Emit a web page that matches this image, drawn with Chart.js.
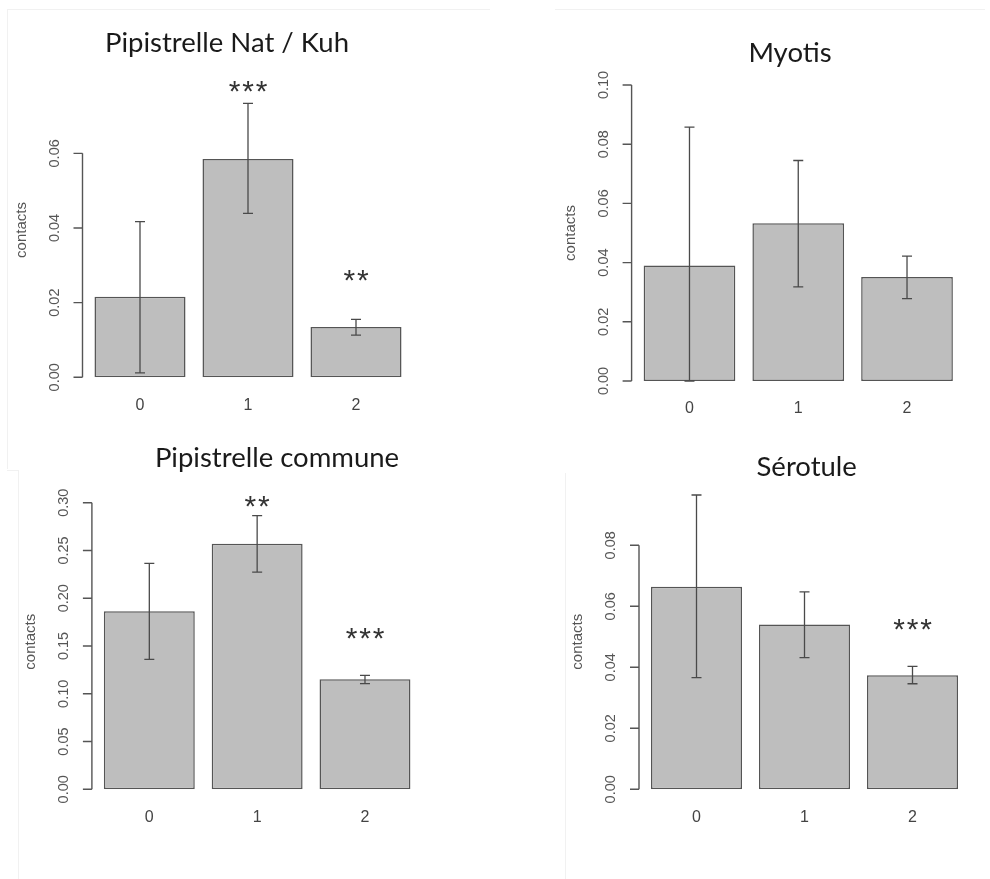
<!DOCTYPE html>
<html>
<head>
<meta charset="utf-8">
<script src="https://cdn.jsdelivr.net/npm/chart.js@4.4.1/dist/chart.umd.min.js"></script>
<style>
  html, body { margin: 0; padding: 0; background: #ffffff; }
  body { width: 990px; height: 879px; position: relative; overflow: hidden; }
  .panel { position: absolute; width: 495px; height: 440px; }
  .faint { position: absolute; background: #f1f1f1; }
</style>
</head>
<body>
<div class="faint" style="left:7px;top:9px;width:483px;height:1px;"></div>
<div class="faint" style="left:7px;top:9px;width:1px;height:460px;"></div>
<div class="faint" style="left:555px;top:9px;width:430px;height:1px;"></div>
<div class="faint" style="left:7px;top:470px;width:11px;height:1px;"></div>
<div class="faint" style="left:18px;top:470px;width:1px;height:409px;"></div>
<div class="faint" style="left:565px;top:473px;width:1px;height:406px;"></div>

<div class="panel" style="left:0;top:0;"><canvas id="c1" width="495" height="440"></canvas></div>
<div class="panel" style="left:495px;top:0;"><canvas id="c2" width="495" height="440"></canvas></div>
<div class="panel" style="left:0;top:440px;"><canvas id="c3" width="495" height="440"></canvas></div>
<div class="panel" style="left:495px;top:440px;"><canvas id="c4" width="495" height="440"></canvas></div>

<script>
// ---------- DATA ----------
const categories = ['0', '1', '2'];
const yAxisTitle = 'contacts';

const natKuhTitle = 'Pipistrelle Nat / Kuh';
const natKuhMeans = [0.0216, 0.0585, 0.0135];
const natKuhLower = [0.0012, 0.0439, 0.0113];
const natKuhUpper = [0.0417, 0.0734, 0.0155];
const natKuhStars = ['', '***', '**'];
const natKuhStarY = [null, 0.0786, 0.0279];
const natKuhTicks = [0.00, 0.02, 0.04, 0.06];

const myotisTitle = 'Myotis';
const myotisMeans = [0.0390, 0.0533, 0.0351];
const myotisLower = [0.0000, 0.0318, 0.0278];
const myotisUpper = [0.0858, 0.0745, 0.0422];
const myotisStars = ['', '', ''];
const myotisStarY = [null, null, null];
const myotisTicks = [0.00, 0.02, 0.04, 0.06, 0.08, 0.10];

const communeTitle = 'Pipistrelle commune';
const communeMeans = [0.1863, 0.2571, 0.1151];
const communeLower = [0.1360, 0.2274, 0.1106];
const communeUpper = [0.2365, 0.2864, 0.1193];
const communeStars = ['', '**', '***'];
const communeStarY = [null, 0.3037, 0.1659];
const communeTicks = [0.00, 0.05, 0.10, 0.15, 0.20, 0.25, 0.30];

const serotuleTitle = 'Sérotule';
const serotuleMeans = [0.0664, 0.0540, 0.0374];
const serotuleLower = [0.0366, 0.0432, 0.0346];
const serotuleUpper = [0.0965, 0.0647, 0.0403];
const serotuleStars = ['', '', '***'];
const serotuleStarY = [null, null, 0.0548];
const serotuleTicks = [0.00, 0.02, 0.04, 0.06, 0.08];

// ---------- DRAWING PLUGIN (R-style axes, error bars, stars) ----------
const rStyle = {
  id: 'rstyle',
  afterDatasetsDraw(chart, args, o) {
    const ctx = chart.ctx;
    const xs = chart.scales.x, ys = chart.scales.y;
    const area = chart.chartArea;
    ctx.save();

    // error bars
    ctx.strokeStyle = '#4a4a4a';
    ctx.lineWidth = 1.3;
    o.lower.forEach((lo, i) => {
      const cx = xs.getPixelForValue(i);
      const y1 = ys.getPixelForValue(lo);
      const y2 = ys.getPixelForValue(o.upper[i]);
      ctx.beginPath();
      ctx.moveTo(cx, y1); ctx.lineTo(cx, y2);
      ctx.moveTo(cx - 5, y1); ctx.lineTo(cx + 5, y1);
      ctx.moveTo(cx - 5, y2); ctx.lineTo(cx + 5, y2);
      ctx.stroke();
    });

    // y axis line + ticks
    const ax = area.left - 3.5;
    const t0 = ys.getPixelForValue(o.ticks[0]);
    const t1 = ys.getPixelForValue(o.ticks[o.ticks.length - 1]);
    ctx.strokeStyle = '#555555';
    ctx.lineWidth = 1.4;
    ctx.beginPath();
    ctx.moveTo(ax, t0); ctx.lineTo(ax, t1);
    o.ticks.forEach(v => {
      const ty = ys.getPixelForValue(v);
      ctx.moveTo(ax, ty); ctx.lineTo(ax - 9, ty);
    });
    ctx.stroke();

    // tick labels, rotated (parallel to axis)
    ctx.fillStyle = '#555555';
    ctx.font = '14.5px "Liberation Sans", Arial, sans-serif';
    ctx.textAlign = 'center';
    ctx.textBaseline = 'middle';
    o.ticks.forEach(v => {
      const ty = ys.getPixelForValue(v);
      ctx.save();
      ctx.translate(ax - 28, ty);
      ctx.rotate(-Math.PI / 2);
      ctx.fillText(v.toFixed(2), 0, 0);
      ctx.restore();
    });

    // y axis title
    ctx.save();
    ctx.translate(ax - 61, o.ylabelY);
    ctx.rotate(-Math.PI / 2);
    ctx.font = '15px "Liberation Sans", Arial, sans-serif';
    ctx.fillText(yAxisTitle, 0, 0);
    ctx.restore();

    // x category labels
    ctx.fillStyle = '#444444';
    ctx.font = '16px "Liberation Sans", Arial, sans-serif';
    categories.forEach((c, i) => {
      ctx.fillText(c, xs.getPixelForValue(i), ys.getPixelForValue(0) + 28);
    });

    // significance stars (spaced like the original)
    ctx.fillStyle = '#333333';
    const sf = 30, gap = 13.5;
    ctx.font = sf + 'px "Liberation Sans", Arial, sans-serif';
    ctx.textBaseline = 'alphabetic';
    o.stars.forEach((s, i) => {
      if (!s) return;
      const cy = ys.getPixelForValue(o.starY[i]);
      const cx = xs.getPixelForValue(i);
      const n = s.length;
      for (let k = 0; k < n; k++) {
        ctx.fillText('*', cx + (k - (n - 1) / 2) * gap, cy + 0.57 * sf);
      }
    });

    // panel title
    ctx.fillStyle = '#1a1a1a';
    ctx.font = o.titleSize + 'px Lato, "Open Sans", sans-serif';
    ctx.textBaseline = 'middle';
    ctx.fillText(o.title, o.titleX, o.titleY);

    ctx.restore();
  }
};

function makePanel(id, title, means, lower, upper, stars, starY, ticks, yMax, pad, titlePos, ylabelY) {
  new Chart(document.getElementById(id), {
    type: 'bar',
    data: {
      labels: categories,
      datasets: [{
        data: means,
        backgroundColor: '#bebebe',
        borderColor: '#555555',
        borderWidth: 1.5,
        borderSkipped: false,
        categoryPercentage: 1.0,
        barPercentage: 0.843
      }]
    },
    options: {
      responsive: false,
      animation: false,
      events: [],
      layout: { padding: pad },
      scales: {
        x: { display: false, offset: true },
        y: { display: false, min: 0, max: yMax }
      },
      plugins: {
        legend: { display: false },
        tooltip: { enabled: false },
        rstyle: {
          title: title, titleX: titlePos[0], titleY: titlePos[1], titleSize: titlePos[2],
          lower: lower, upper: upper, stars: stars, starY: starY,
          ticks: ticks, ylabelY: ylabelY
        }
      }
    },
    plugins: [rStyle]
  });
}

makePanel('c1', natKuhTitle, natKuhMeans, natKuhLower, natKuhUpper, natKuhStars, natKuhStarY, natKuhTicks,
  0.08, { left: 86, right: 85, top: 78.7, bottom: 62.7 }, [227, 43, 27.5], 230);
makePanel('c2', myotisTitle, myotisMeans, myotisLower, myotisUpper, myotisStars, myotisStarY, myotisTicks,
  0.10, { left: 140.1, right: 28.6, top: 85, bottom: 59 }, [295, 53, 27.5], 233);
makePanel('c3', communeTitle, communeMeans, communeLower, communeUpper, communeStars, communeStarY, communeTicks,
  0.30, { left: 95.4, right: 76.1, top: 62.7, bottom: 90.7 }, [277, 18, 27.5], 201.7);
makePanel('c4', serotuleTitle, serotuleMeans, serotuleLower, serotuleUpper, serotuleStars, serotuleStarY, serotuleTicks,
  0.10, { left: 147.5, right: 23.5, top: 44.3, bottom: 90.7 }, [311.7, 27.3, 27.5], 201.7);
</script>
</body>
</html>
